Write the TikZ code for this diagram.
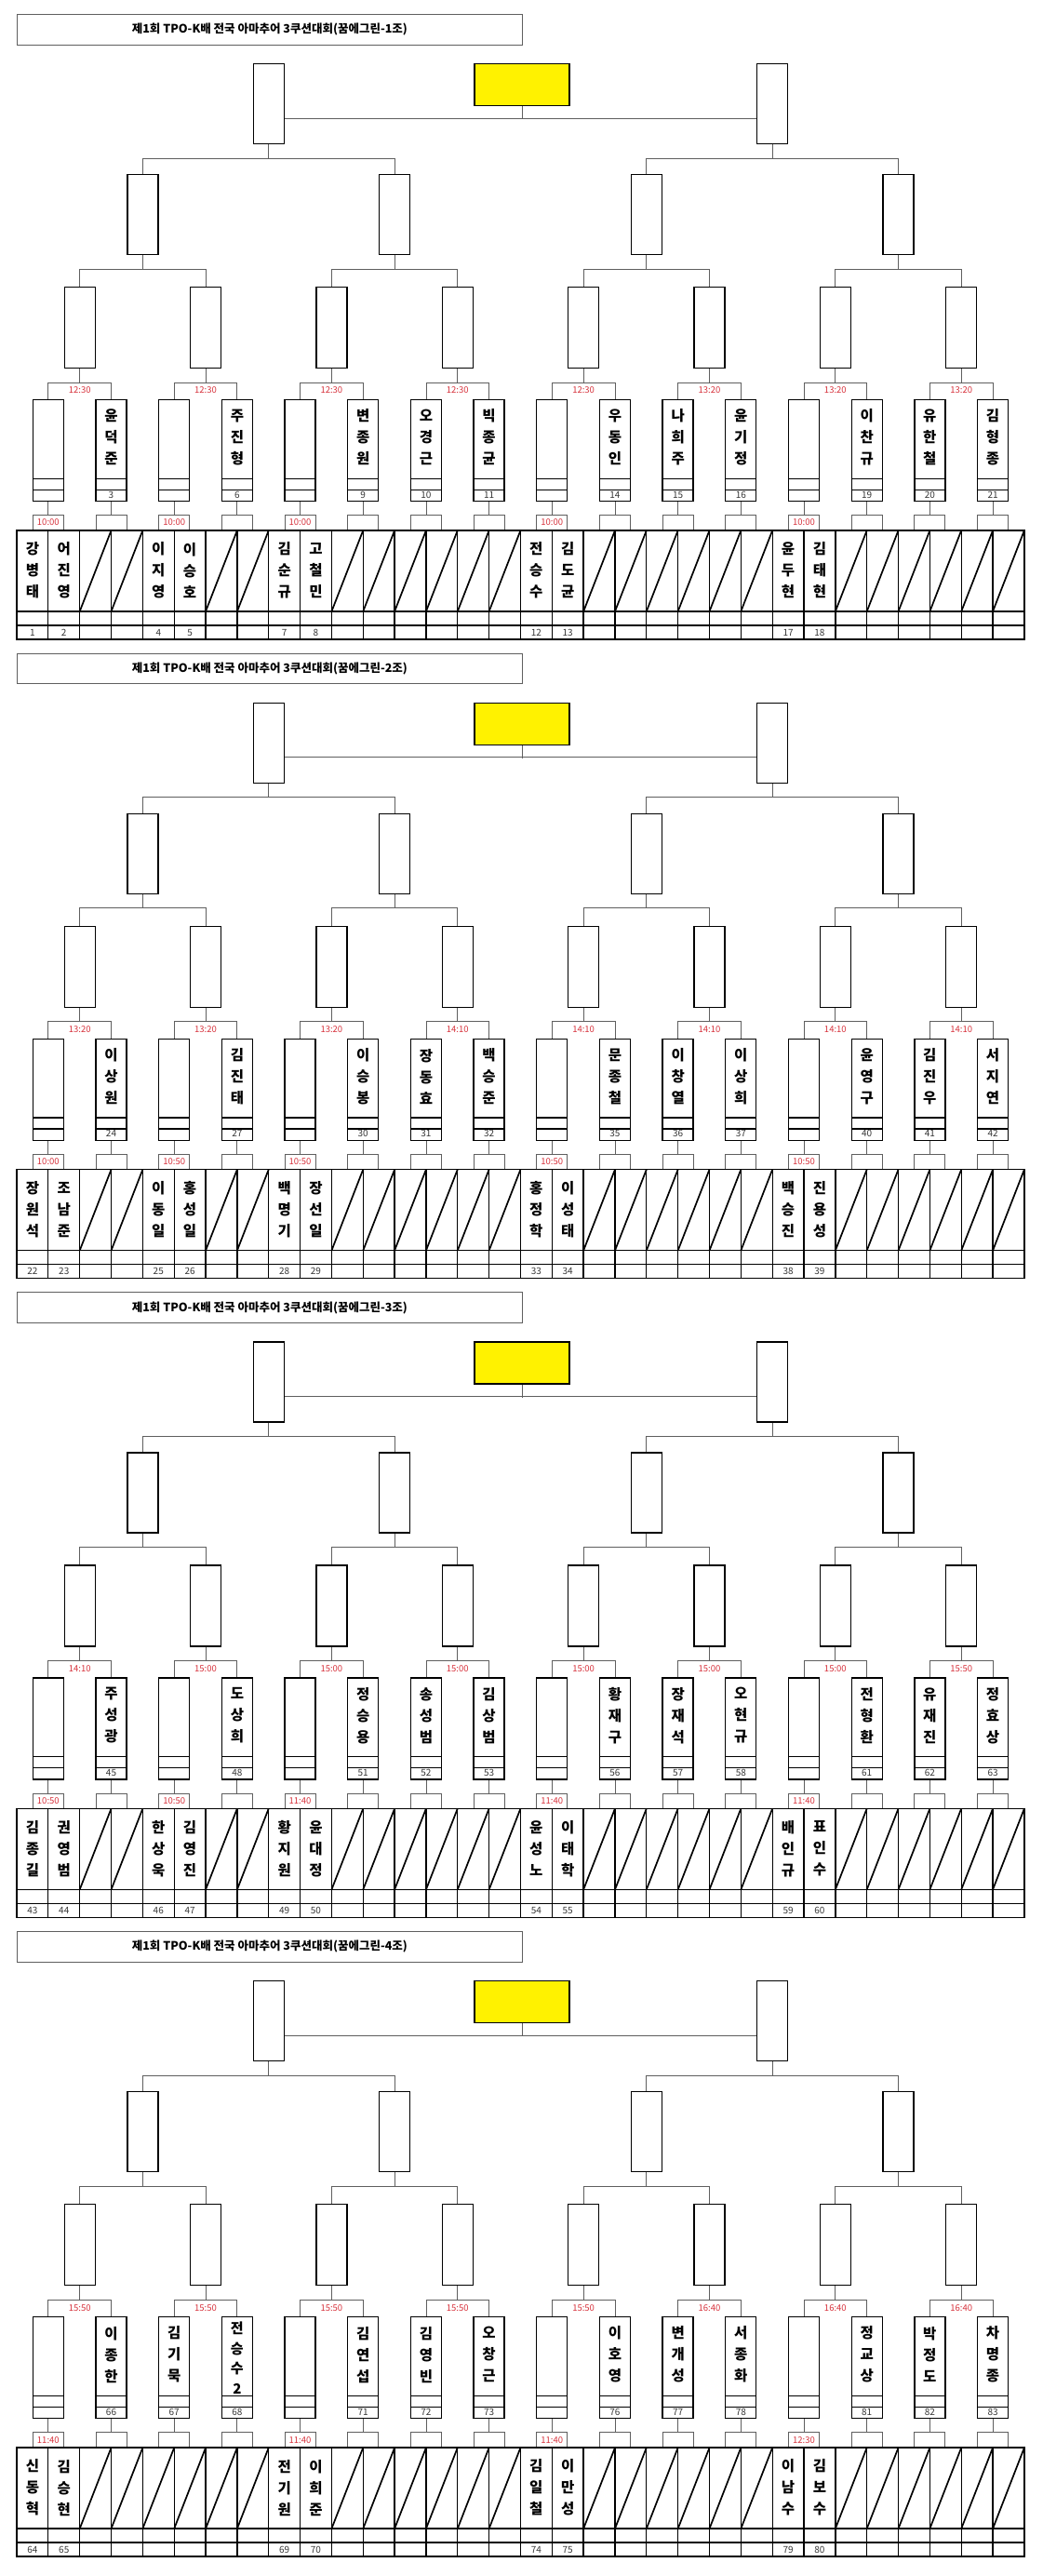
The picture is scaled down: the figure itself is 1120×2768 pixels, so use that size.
\documentclass[tikz,border=0pt]{standalone}
\usepackage{fontspec}
\setmainfont{Noto Sans CJK KR}
\usetikzlibrary{calc}
\definecolor{tred}{RGB}{215,50,60}
\definecolor{conn}{RGB}{95,95,95}
\definecolor{numc}{RGB}{55,55,55}
\tikzset{
  bx/.style={draw=black,line width=1.3pt,fill=white,inner sep=0pt,anchor=north,minimum width=33pt},
  sbx/.style={draw=conn,line width=0.8pt,inner sep=0pt,anchor=south,minimum width=33pt,minimum height=16pt},
  cn/.style={draw=conn,line width=0.8pt},
  thk/.style={draw=black,line width=1.3pt},
  sl/.style={draw=black,line width=1.7pt},
  tl/.style={text=tred,font=\fontsize{9.5}{10}\selectfont,inner sep=0pt},
  nm/.style={font=\bfseries\fontsize{15.5}{23}\selectfont,align=center,inner sep=0pt},
  nmf/.style={font=\bfseries\fontsize{15}{21.7}\selectfont,align=center,inner sep=0pt},
  nu/.style={text=numc,font=\fontsize{10}{10}\selectfont,inner sep=0pt},
  ttl/.style={draw=conn,line width=0.8pt,anchor=north west,inner sep=0pt,minimum width=543pt,minimum height=32.5pt,font=\bfseries\fontsize{12.5}{14}\selectfont},
}
\def\CW{33.84}
\newcommand\drawsec[3]{%
  \def\sk{#1}%
  \node[ttl] (title#1) at (18,15) {제1회 TPO-K배 전국 아마추어 3쿠션대회(꿈에그린-#2조)};
  \node[bx,minimum height=86pt] (F#1-0) at ({18+8*\CW},68) {};
  \node[bx,minimum height=86pt] (F#1-1) at ({18+24*\CW},68) {};
  \node[bx,fill=yellow,minimum width=102pt,minimum height=45pt] (W#1) at (561,68) {};
  \draw[cn] ($(F#1-0.north east)+(0,59)$) -- ($(F#1-1.north west)+(0,59)$);
  \draw[cn] (W#1.south) -- ++(0,14);
  \foreach \s in {0,...,3}{
    \pgfmathtruncatemacro\fp{int(\s/2)}
    \node[bx,minimum height=86pt] (S#1-\s) at ({18+(8*\s+4)*\CW},187) {};
    \draw[cn] (S#1-\s.north) -- ++(0,-17) -| (F#1-\fp.south);
  }
  \foreach \t [count=\qq from 0] in {#3}{
    \pgfmathtruncatemacro\spp{int(\qq/2)}
    \node[bx,minimum height=87pt] (Q#1-\qq) at ({18+(4*\qq+2)*\CW},308) {};
    \draw[cn] (Q#1-\qq.north) -- ++(0,-19) -| (S#1-\spp.south);
    \node[tl] at ({18+(4*\qq+2)*\CW},419.5) {\t};
  }
  \foreach \p in {0,...,15}{
    \pgfmathtruncatemacro\qp{int(\p/2)}
    \pgfmathsetmacro\cx{18+(2*\p+1)*\CW}
    \node[bx,minimum height=109pt] (T#1-\p) at (\cx,429) {};
    \draw[cn] (T#1-\p.north) -- ++(0,-18) -| (Q#1-\qp.south);
    \draw[thk] ($(T#1-\p.south west)+(0,-25)$) -- ($(T#1-\p.south east)+(0,-25)$);
    \draw[thk] ($(T#1-\p.south west)+(0,-13)$) -- ($(T#1-\p.south east)+(0,-13)$);
    \node[sbx] (m#1-\p) at (\cx,570) {};
    \draw[cn] (m#1-\p.north) -- (T#1-\p.south);
  }
  \draw[thk,line width=1.5pt] (18,570) rectangle (1101,687);
  \draw[thk] (18,657) -- (1101,657);
  \draw[thk] (18,672) -- (1101,672);
  \foreach \j in {1,...,31} \draw[thk] ({18+\j*\CW},570) -- ({18+\j*\CW},687);
}
\newcommand\MT[6]{%
  \pgfmathsetmacro\cx{18+(2*#1+1)*\CW}
  \node[tl] at (m\sk-#1) {#2};
  \node[nm] at ({\cx-0.5*\CW},613) {#3};
  \node[nu] at ({\cx-0.5*\CW},679.5) {#4};
  \node[nm] at ({\cx+0.5*\CW},613) {#5};
  \node[nu] at ({\cx+0.5*\CW},679.5) {#6};
}
\newcommand\BY[3]{%
  \pgfmathsetmacro\cx{18+(2*#1+1)*\CW}
  \node[nm] at (\cx,470) {#2};
  \node[nu] at (\cx,531.5) {#3};
  \draw[sl] ({\cx-\CW},657) -- (\cx,570);
  \draw[sl] (\cx,657) -- ({\cx+\CW},570);
}
\newcommand\BYfour[3]{%
  \pgfmathsetmacro\cx{18+(2*#1+1)*\CW}
  \node[nmf] at (\cx,473.5) {#2};
  \node[nu] at (\cx,531.5) {#3};
  \draw[sl] ({\cx-\CW},657) -- (\cx,570);
  \draw[sl] (\cx,657) -- ({\cx+\CW},570);
}
\begin{document}
\begin{tikzpicture}[x=1pt,y=-1pt]
\path[fill=white,use as bounding box] (0,0) rectangle (1120,2768);
% ---------- section 1
\begin{scope}[shift={(0,0)}]
\drawsec{0}{1}{12:30,12:30,12:30,12:30,12:30,13:20,13:20,13:20}
\MT{0}{10:00}{강\\병\\태}{1}{어\\진\\영}{2}
\BY{1}{윤\\덕\\준}{3}
\MT{2}{10:00}{이\\지\\영}{4}{이\\승\\호}{5}
\BY{3}{주\\진\\형}{6}
\MT{4}{10:00}{김\\순\\규}{7}{고\\철\\민}{8}
\BY{5}{변\\종\\원}{9}
\BY{6}{오\\경\\근}{10}
\BY{7}{빅\\종\\균}{11}
\MT{8}{10:00}{전\\승\\수}{12}{김\\도\\균}{13}
\BY{9}{우\\동\\인}{14}
\BY{10}{나\\희\\주}{15}
\BY{11}{윤\\기\\정}{16}
\MT{12}{10:00}{윤\\두\\현}{17}{김\\태\\현}{18}
\BY{13}{이\\찬\\규}{19}
\BY{14}{유\\한\\철}{20}
\BY{15}{김\\형\\종}{21}
\end{scope}
% ---------- section 2
\begin{scope}[shift={(0,686.7)}]
\drawsec{1}{2}{13:20,13:20,13:20,14:10,14:10,14:10,14:10,14:10}
\MT{0}{10:00}{장\\원\\석}{22}{조\\남\\준}{23}
\BY{1}{이\\상\\원}{24}
\MT{2}{10:50}{이\\동\\일}{25}{홍\\성\\일}{26}
\BY{3}{김\\진\\태}{27}
\MT{4}{10:50}{백\\명\\기}{28}{장\\선\\일}{29}
\BY{5}{이\\승\\봉}{30}
\BY{6}{장\\동\\효}{31}
\BY{7}{백\\승\\준}{32}
\MT{8}{10:50}{홍\\정\\학}{33}{이\\성\\태}{34}
\BY{9}{문\\종\\철}{35}
\BY{10}{이\\창\\열}{36}
\BY{11}{이\\상\\희}{37}
\MT{12}{10:50}{백\\승\\진}{38}{진\\용\\성}{39}
\BY{13}{윤\\영\\구}{40}
\BY{14}{김\\진\\우}{41}
\BY{15}{서\\지\\연}{42}
\end{scope}
% ---------- section 3
\begin{scope}[shift={(0,1373.4)}]
\drawsec{2}{3}{14:10,15:00,15:00,15:00,15:00,15:00,15:00,15:50}
\MT{0}{10:50}{김\\종\\길}{43}{권\\영\\범}{44}
\BY{1}{주\\성\\광}{45}
\MT{2}{10:50}{한\\상\\욱}{46}{김\\영\\진}{47}
\BY{3}{도\\상\\희}{48}
\MT{4}{11:40}{황\\지\\원}{49}{윤\\대\\정}{50}
\BY{5}{정\\승\\용}{51}
\BY{6}{송\\성\\범}{52}
\BY{7}{김\\상\\범}{53}
\MT{8}{11:40}{윤\\성\\노}{54}{이\\태\\학}{55}
\BY{9}{황\\재\\구}{56}
\BY{10}{장\\재\\석}{57}
\BY{11}{오\\현\\규}{58}
\MT{12}{11:40}{배\\인\\규}{59}{표\\인\\수}{60}
\BY{13}{전\\형\\환}{61}
\BY{14}{유\\재\\진}{62}
\BY{15}{정\\효\\상}{63}
\end{scope}
% ---------- section 4
\begin{scope}[shift={(0,2060.1)}]
\drawsec{3}{4}{15:50,15:50,15:50,15:50,15:50,16:40,16:40,16:40}
\MT{0}{11:40}{신\\동\\혁}{64}{김\\승\\현}{65}
\BY{1}{이\\종\\한}{66}
\BY{2}{김\\기\\묵}{67}
\BYfour{3}{전\\승\\수\\2}{68}
\MT{4}{11:40}{전\\기\\원}{69}{이\\희\\준}{70}
\BY{5}{김\\연\\섭}{71}
\BY{6}{김\\영\\빈}{72}
\BY{7}{오\\창\\근}{73}
\MT{8}{11:40}{김\\일\\철}{74}{이\\만\\성}{75}
\BY{9}{이\\호\\영}{76}
\BY{10}{변\\개\\성}{77}
\BY{11}{서\\종\\화}{78}
\MT{12}{12:30}{이\\남\\수}{79}{김\\보\\수}{80}
\BY{13}{정\\교\\상}{81}
\BY{14}{박\\정\\도}{82}
\BY{15}{차\\명\\종}{83}
\end{scope}
\end{tikzpicture}
\end{document}
